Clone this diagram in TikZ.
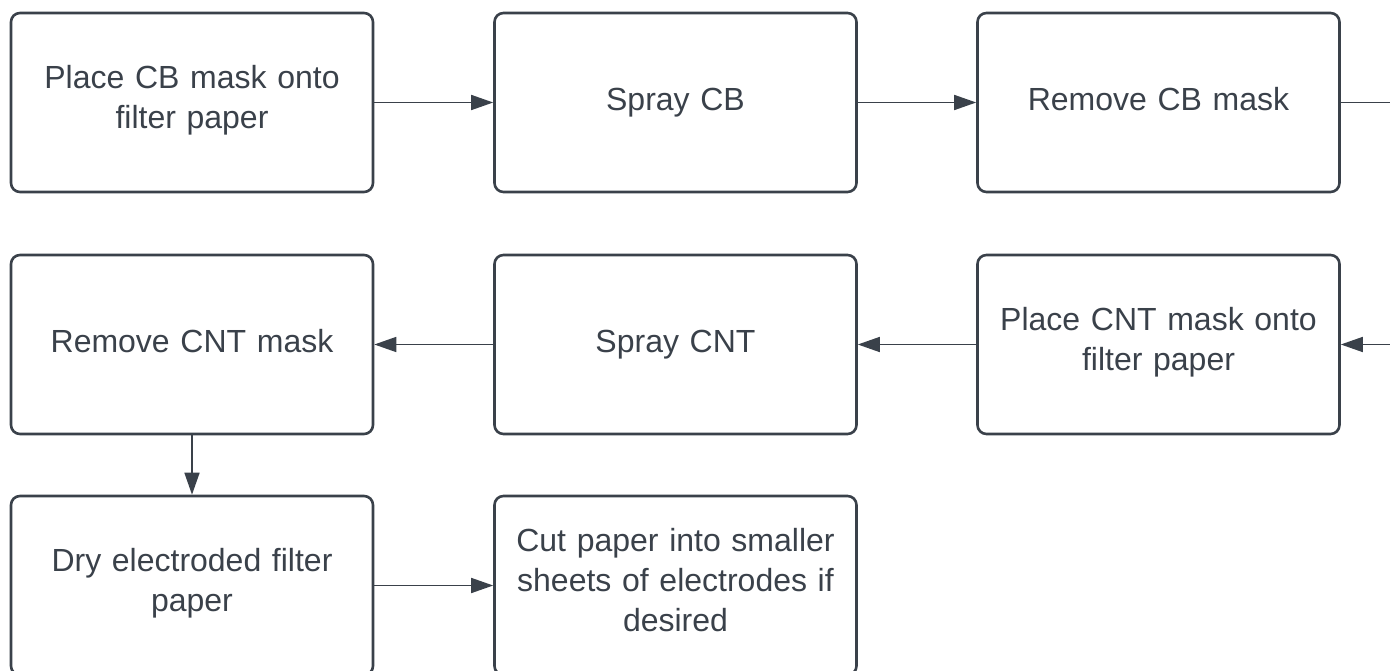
\documentclass[tikz,border=0pt]{standalone}
\usepackage{fontspec}
\setmainfont{Liberation Sans}
\usetikzlibrary{arrows.meta}
\definecolor{lineGray}{HTML}{3A414A}
\tikzset{
	stepbox/.style={draw=lineGray,line width=2.6pt,rounded corners=9pt,minimum width=362pt,minimum height=179pt,text width=350pt,align=center,text=lineGray,font=\fontsize{32}{40}\selectfont,execute at end node=\strut},
	link/.style={draw=lineGray,line width=1.6pt,-{Triangle[length=22pt,width=15pt]}}
}
\begin{document}
\begin{tikzpicture}[x=1pt,y=-1pt,line join=round]
			\useasboundingbox (0,0) rectangle (1390,671);
			\clip (0,0) rectangle (1390,671);
			\node[stepbox] (placeCB) at (192,102.5) {Place CB mask onto\\filter paper};
			\node[stepbox] (sprayCB) at (675.5,102.5) {Spray CB};
			\node[stepbox] (removeCB) at (1158.5,102.5) {Remove CB mask};
			\node[stepbox] (removeCNT) at (192,344.5) {Remove CNT mask};
			\node[stepbox] (sprayCNT) at (675.5,344.5) {Spray CNT};
			\node[stepbox] (placeCNT) at (1158.5,344.5) {Place CNT mask onto\\filter paper};
			\node[stepbox] (dry) at (192,585.5) {Dry electroded filter\\paper};
			\node[stepbox] (cut) at (675.5,585.5) {Cut paper into smaller\\sheets of electrodes if\\desired};
			\path
			(1400,102.5)coordinate(outR) 
			(1400,344.5)coordinate(inR)
			;
			%row 1
			\draw[link] (placeCB)--(sprayCB);
			\draw[link] (sprayCB)--(removeCB);
			\draw[draw=lineGray,line width=1.6pt] (removeCB.east)--(outR);
			%row 2
			\draw[link] (inR)--(placeCNT);
			\draw[link] (placeCNT)--(sprayCNT);
			\draw[link] (sprayCNT)--(removeCNT);
			%row 3
			\draw[link] (removeCNT)--(dry);
			\draw[link] (dry)--(cut);
	\end{tikzpicture}
\end{document}
